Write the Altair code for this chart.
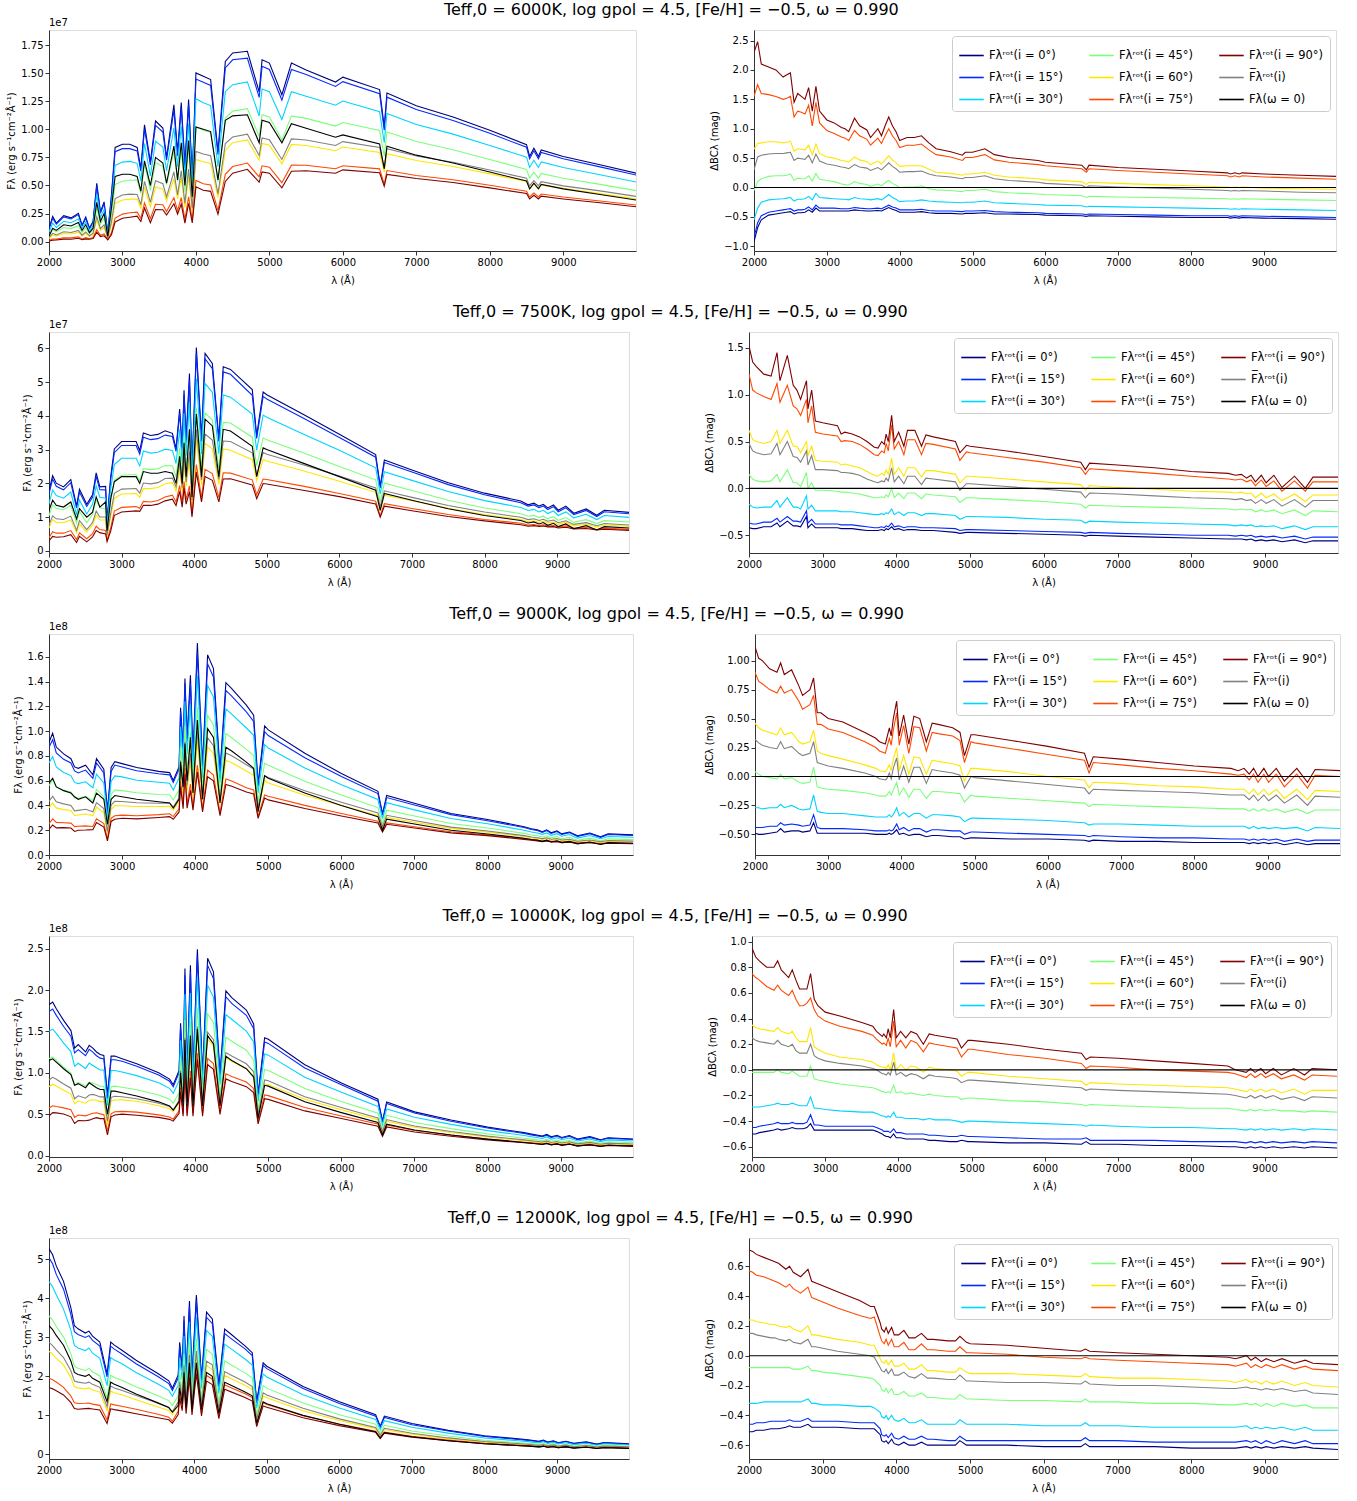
import altair as alt
import pandas as pd

# ---------------- Teff,0 = 6000 K ----------------
WL_6000 = [2000, 2050, 2100, 2200, 2300, 2400, 2450, 2500, 2550, 2600, 2650, 2700, 2750, 2800, 2850, 2900, 3000, 3100, 3200, 3250, 3300, 3380, 3450, 3550, 3600, 3700, 3750, 3800, 3850, 3900, 3950, 4000, 4100, 4200, 4300, 4400, 4500, 4700, 4861, 4900, 5000, 5170, 5300, 5500, 5900, 6000, 6500, 6563, 6600, 7000, 7500, 8000, 8500, 8542, 8600, 8662, 8700, 9000, 9500, 10000]
F0_6000 = [0.05, 0.12, 0.10, 0.15, 0.14, 0.17, 0.10, 0.15, 0.08, 0.12, 0.35, 0.18, 0.25, 0.05, 0.30, 0.58, 0.60, 0.60, 0.58, 0.45, 0.72, 0.50, 0.75, 0.70, 0.52, 0.85, 0.55, 0.88, 0.50, 0.90, 0.40, 1.02, 1.00, 0.98, 0.55, 1.08, 1.12, 1.13, 0.88, 1.08, 1.06, 0.88, 1.05, 1.01, 0.93, 0.95, 0.87, 0.65, 0.85, 0.77, 0.70, 0.62, 0.54, 0.47, 0.52, 0.47, 0.51, 0.47, 0.42, 0.37]
D90_6000 = [2.30, 2.48, 2.10, 2.05, 2.00, 1.88, 1.92, 1.95, 1.45, 1.60, 1.55, 1.50, 1.70, 1.30, 1.72, 1.30, 1.15, 1.10, 1.02, 1.00, 0.95, 1.18, 1.05, 0.98, 0.85, 1.00, 0.88, 1.05, 1.20, 1.05, 0.95, 0.80, 0.85, 0.85, 0.88, 0.76, 0.66, 0.61, 0.55, 0.60, 0.60, 0.66, 0.56, 0.51, 0.46, 0.43, 0.38, 0.30, 0.38, 0.34, 0.31, 0.28, 0.25, 0.23, 0.25, 0.23, 0.25, 0.23, 0.21, 0.19]
D75_6000 = [1.55, 1.75, 1.60, 1.58, 1.55, 1.50, 1.52, 1.55, 1.20, 1.30, 1.28, 1.25, 1.40, 1.05, 1.45, 1.10, 0.97, 0.92, 0.86, 0.84, 0.80, 0.97, 0.88, 0.82, 0.72, 0.84, 0.75, 0.88, 1.00, 0.88, 0.80, 0.68, 0.72, 0.72, 0.74, 0.64, 0.56, 0.52, 0.46, 0.51, 0.51, 0.56, 0.47, 0.43, 0.39, 0.37, 0.32, 0.26, 0.32, 0.29, 0.26, 0.23, 0.20, 0.18, 0.20, 0.18, 0.20, 0.18, 0.16, 0.14]
D60_6000 = [0.65, 0.75, 0.76, 0.78, 0.78, 0.76, 0.77, 0.79, 0.62, 0.66, 0.65, 0.64, 0.72, 0.56, 0.74, 0.58, 0.52, 0.50, 0.46, 0.45, 0.43, 0.52, 0.47, 0.44, 0.39, 0.45, 0.40, 0.47, 0.54, 0.47, 0.42, 0.36, 0.37, 0.37, 0.37, 0.31, 0.26, 0.24, 0.21, 0.23, 0.23, 0.26, 0.21, 0.18, 0.15, 0.13, 0.10, 0.05, 0.09, 0.07, 0.05, 0.03, 0.01, 0.00, 0.01, 0.00, 0.01, -0.01, -0.02, -0.03]
DMN_6000 = [0.30, 0.52, 0.55, 0.57, 0.58, 0.58, 0.59, 0.60, 0.46, 0.50, 0.49, 0.48, 0.55, 0.42, 0.57, 0.45, 0.40, 0.38, 0.35, 0.34, 0.32, 0.39, 0.35, 0.33, 0.29, 0.34, 0.30, 0.36, 0.42, 0.36, 0.32, 0.26, 0.27, 0.27, 0.28, 0.23, 0.20, 0.18, 0.15, 0.17, 0.17, 0.20, 0.15, 0.12, 0.09, 0.07, 0.04, 0.00, 0.03, 0.01, -0.01, -0.03, -0.05, -0.06, -0.05, -0.06, -0.05, -0.06, -0.08, -0.09]
D45_6000 = [-0.05, 0.10, 0.15, 0.19, 0.20, 0.20, 0.21, 0.23, 0.12, 0.16, 0.15, 0.15, 0.20, 0.11, 0.24, 0.14, 0.12, 0.10, 0.06, 0.05, 0.04, 0.10, 0.07, 0.05, 0.02, 0.06, 0.03, 0.08, 0.12, 0.07, 0.04, 0.00, 0.01, 0.01, 0.03, -0.02, -0.04, -0.05, -0.07, -0.05, -0.05, -0.03, -0.07, -0.09, -0.11, -0.12, -0.14, -0.17, -0.15, -0.16, -0.17, -0.18, -0.19, -0.20, -0.19, -0.20, -0.19, -0.20, -0.21, -0.22]
D30_6000 = [-0.55, -0.35, -0.25, -0.21, -0.20, -0.19, -0.18, -0.17, -0.23, -0.20, -0.20, -0.19, -0.15, -0.21, -0.10, -0.17, -0.18, -0.19, -0.20, -0.20, -0.21, -0.17, -0.19, -0.20, -0.21, -0.19, -0.21, -0.17, -0.12, -0.17, -0.20, -0.24, -0.23, -0.23, -0.21, -0.23, -0.24, -0.25, -0.26, -0.25, -0.25, -0.23, -0.26, -0.27, -0.29, -0.30, -0.31, -0.33, -0.32, -0.33, -0.34, -0.35, -0.36, -0.37, -0.36, -0.37, -0.36, -0.37, -0.38, -0.39]
D15_6000 = [-0.85, -0.60, -0.48, -0.42, -0.40, -0.38, -0.37, -0.36, -0.40, -0.38, -0.38, -0.37, -0.33, -0.38, -0.30, -0.35, -0.35, -0.35, -0.36, -0.36, -0.36, -0.34, -0.35, -0.36, -0.36, -0.35, -0.36, -0.33, -0.30, -0.33, -0.35, -0.38, -0.38, -0.38, -0.37, -0.39, -0.40, -0.40, -0.41, -0.40, -0.40, -0.39, -0.41, -0.42, -0.43, -0.44, -0.45, -0.46, -0.45, -0.46, -0.47, -0.48, -0.48, -0.49, -0.48, -0.49, -0.48, -0.49, -0.50, -0.51]
D00_6000 = [-0.92, -0.68, -0.55, -0.47, -0.45, -0.43, -0.42, -0.41, -0.45, -0.43, -0.43, -0.42, -0.38, -0.42, -0.35, -0.40, -0.40, -0.40, -0.40, -0.40, -0.40, -0.38, -0.39, -0.40, -0.40, -0.39, -0.40, -0.37, -0.34, -0.37, -0.39, -0.42, -0.42, -0.42, -0.41, -0.43, -0.44, -0.44, -0.45, -0.44, -0.44, -0.43, -0.45, -0.45, -0.46, -0.47, -0.48, -0.49, -0.48, -0.49, -0.50, -0.51, -0.51, -0.52, -0.51, -0.52, -0.51, -0.52, -0.53, -0.54]

# ---------------- Teff,0 = 7500 K ----------------
WL_7500 = [2000, 2050, 2100, 2200, 2300, 2380, 2420, 2520, 2600, 2650, 2700, 2780, 2800, 2850, 2900, 3000, 3200, 3250, 3300, 3400, 3500, 3600, 3700, 3750, 3800, 3835, 3860, 3889, 3935, 3970, 4030, 4101, 4150, 4250, 4340, 4400, 4500, 4800, 4861, 4950, 5000, 5500, 6000, 6500, 6563, 6620, 7000, 7500, 8000, 8500, 8600, 8680, 8750, 8810, 8870, 8950, 9015, 9120, 9230, 9400, 9546, 9650, 10000]
F0_7500 = [1.2, 1.5, 1.35, 1.3, 1.45, 0.95, 1.25, 1.0, 1.15, 1.6, 1.3, 1.45, 0.6, 1.55, 2.05, 2.2, 2.2, 2.0, 2.35, 2.3, 2.3, 2.35, 2.3, 2.0, 2.8, 2.0, 3.2, 2.2, 3.6, 1.6, 4.05, 2.2, 3.9, 3.7, 2.2, 3.6, 3.55, 3.1, 2.2, 3.05, 3.0, 2.6, 2.2, 1.8, 1.2, 1.7, 1.5, 1.25, 1.05, 0.9, 0.83, 0.86, 0.8, 0.84, 0.76, 0.82, 0.72, 0.8, 0.66, 0.75, 0.62, 0.72, 0.68]
D90_7500 = [1.52, 1.35, 1.30, 1.22, 1.20, 1.45, 1.15, 1.42, 1.10, 1.05, 0.95, 1.15, 0.85, 1.05, 0.72, 0.70, 0.67, 0.58, 0.60, 0.58, 0.55, 0.50, 0.44, 0.43, 0.50, 0.47, 0.58, 0.50, 0.78, 0.50, 0.60, 0.45, 0.62, 0.62, 0.45, 0.57, 0.55, 0.50, 0.38, 0.46, 0.45, 0.40, 0.34, 0.28, 0.20, 0.27, 0.25, 0.22, 0.18, 0.16, 0.14, 0.15, 0.11, 0.14, 0.07, 0.14, 0.06, 0.14, 0.01, 0.13, 0.00, 0.12, 0.12]
D75_7500 = [1.22, 1.05, 1.02, 0.98, 0.95, 1.12, 0.92, 1.10, 0.88, 0.85, 0.78, 0.95, 0.70, 0.88, 0.60, 0.58, 0.56, 0.50, 0.51, 0.50, 0.47, 0.42, 0.36, 0.35, 0.40, 0.38, 0.48, 0.40, 0.68, 0.42, 0.50, 0.36, 0.52, 0.52, 0.36, 0.48, 0.47, 0.42, 0.30, 0.39, 0.38, 0.33, 0.28, 0.22, 0.15, 0.21, 0.19, 0.16, 0.13, 0.10, 0.09, 0.10, 0.07, 0.09, 0.03, 0.09, 0.02, 0.08, -0.03, 0.08, -0.03, 0.07, 0.07]
D60_7500 = [0.62, 0.52, 0.50, 0.48, 0.50, 0.62, 0.48, 0.62, 0.45, 0.45, 0.38, 0.50, 0.35, 0.45, 0.30, 0.29, 0.28, 0.25, 0.26, 0.24, 0.22, 0.18, 0.14, 0.13, 0.16, 0.14, 0.20, 0.15, 0.32, 0.15, 0.22, 0.13, 0.22, 0.22, 0.12, 0.19, 0.19, 0.15, 0.06, 0.13, 0.13, 0.10, 0.07, 0.04, -0.02, 0.03, 0.01, -0.01, -0.03, -0.04, -0.05, -0.04, -0.06, -0.05, -0.10, -0.05, -0.10, -0.06, -0.13, -0.06, -0.14, -0.07, -0.07]
DMN_7500 = [0.48, 0.40, 0.38, 0.36, 0.37, 0.48, 0.36, 0.50, 0.34, 0.33, 0.28, 0.40, 0.25, 0.35, 0.20, 0.20, 0.19, 0.17, 0.17, 0.16, 0.14, 0.10, 0.07, 0.06, 0.08, 0.07, 0.11, 0.08, 0.22, 0.07, 0.13, 0.05, 0.13, 0.13, 0.04, 0.11, 0.10, 0.07, -0.02, 0.05, 0.05, 0.02, -0.01, -0.04, -0.10, -0.05, -0.06, -0.08, -0.10, -0.11, -0.12, -0.11, -0.13, -0.12, -0.16, -0.12, -0.16, -0.12, -0.19, -0.12, -0.20, -0.13, -0.13]
D45_7500 = [0.15, 0.10, 0.08, 0.07, 0.08, 0.15, 0.07, 0.20, 0.06, 0.06, 0.02, 0.17, 0.00, 0.06, -0.02, -0.02, -0.03, -0.04, -0.04, -0.05, -0.06, -0.08, -0.10, -0.10, -0.09, -0.10, -0.07, -0.09, 0.00, -0.10, -0.05, -0.11, -0.05, -0.05, -0.11, -0.06, -0.07, -0.09, -0.15, -0.10, -0.10, -0.12, -0.14, -0.17, -0.21, -0.18, -0.19, -0.20, -0.21, -0.22, -0.23, -0.22, -0.23, -0.22, -0.25, -0.23, -0.25, -0.23, -0.27, -0.23, -0.29, -0.24, -0.25]
D30_7500 = [-0.17, -0.20, -0.21, -0.20, -0.20, -0.13, -0.20, -0.10, -0.20, -0.20, -0.22, -0.08, -0.22, -0.18, -0.24, -0.24, -0.24, -0.25, -0.25, -0.25, -0.26, -0.27, -0.28, -0.28, -0.27, -0.28, -0.26, -0.27, -0.22, -0.28, -0.25, -0.29, -0.26, -0.26, -0.29, -0.27, -0.27, -0.29, -0.33, -0.30, -0.30, -0.31, -0.33, -0.34, -0.37, -0.35, -0.36, -0.37, -0.38, -0.39, -0.40, -0.39, -0.40, -0.39, -0.41, -0.40, -0.41, -0.40, -0.43, -0.40, -0.44, -0.41, -0.41]
D15_7500 = [-0.37, -0.38, -0.38, -0.36, -0.36, -0.32, -0.36, -0.30, -0.35, -0.35, -0.36, -0.24, -0.37, -0.33, -0.38, -0.38, -0.38, -0.39, -0.39, -0.39, -0.40, -0.41, -0.42, -0.42, -0.41, -0.42, -0.40, -0.41, -0.37, -0.41, -0.40, -0.42, -0.41, -0.41, -0.42, -0.42, -0.42, -0.43, -0.45, -0.44, -0.44, -0.45, -0.46, -0.47, -0.48, -0.47, -0.48, -0.49, -0.50, -0.50, -0.51, -0.50, -0.51, -0.50, -0.52, -0.51, -0.52, -0.51, -0.53, -0.51, -0.54, -0.52, -0.52]
D00_7500 = [-0.42, -0.43, -0.43, -0.41, -0.41, -0.37, -0.41, -0.35, -0.40, -0.40, -0.41, -0.30, -0.42, -0.38, -0.42, -0.42, -0.42, -0.43, -0.43, -0.43, -0.44, -0.45, -0.45, -0.45, -0.44, -0.45, -0.43, -0.44, -0.41, -0.44, -0.43, -0.45, -0.44, -0.44, -0.45, -0.45, -0.45, -0.47, -0.48, -0.47, -0.47, -0.48, -0.49, -0.50, -0.51, -0.50, -0.51, -0.52, -0.53, -0.54, -0.54, -0.54, -0.55, -0.54, -0.56, -0.55, -0.56, -0.55, -0.57, -0.55, -0.58, -0.56, -0.56]

# ---------------- Teff,0 = 9000 K ----------------
WL_9000 = [2000, 2050, 2100, 2200, 2300, 2350, 2400, 2500, 2600, 2650, 2750, 2800, 2850, 2900, 3000, 3200, 3500, 3650, 3700, 3780, 3800, 3835, 3860, 3889, 3935, 3970, 4030, 4101, 4170, 4250, 4340, 4420, 4500, 4700, 4800, 4861, 4950, 5000, 5500, 6000, 6500, 6563, 6620, 7000, 7500, 8000, 8500, 8600, 8680, 8750, 8810, 8870, 8950, 9015, 9120, 9230, 9400, 9546, 9650, 10000]
F0_9000 = [0.58, 0.62, 0.55, 0.52, 0.50, 0.47, 0.45, 0.47, 0.42, 0.50, 0.45, 0.25, 0.45, 0.48, 0.47, 0.45, 0.43, 0.42, 0.38, 0.45, 0.75, 0.55, 0.90, 0.60, 0.95, 0.50, 1.09, 0.45, 1.02, 0.95, 0.42, 0.87, 0.84, 0.75, 0.70, 0.35, 0.64, 0.62, 0.50, 0.40, 0.31, 0.20, 0.29, 0.25, 0.20, 0.17, 0.135, 0.125, 0.12, 0.11, 0.12, 0.105, 0.115, 0.10, 0.11, 0.09, 0.105, 0.085, 0.10, 0.095]
D90_9000 = [1.12, 1.02, 1.00, 0.93, 0.90, 0.98, 0.88, 0.92, 0.78, 0.70, 0.75, 0.85, 0.55, 0.55, 0.50, 0.47, 0.38, 0.33, 0.30, 0.28, 0.33, 0.42, 0.35, 0.50, 0.65, 0.35, 0.53, 0.28, 0.52, 0.50, 0.30, 0.46, 0.45, 0.42, 0.38, 0.18, 0.36, 0.36, 0.31, 0.26, 0.20, 0.08, 0.17, 0.15, 0.12, 0.09, 0.07, 0.05, 0.07, 0.02, 0.07, 0.00, 0.07, 0.00, 0.07, -0.04, 0.07, -0.05, 0.06, 0.05]
D75_9000 = [0.90, 0.82, 0.80, 0.75, 0.72, 0.78, 0.72, 0.75, 0.65, 0.58, 0.62, 0.70, 0.45, 0.45, 0.41, 0.38, 0.30, 0.25, 0.22, 0.20, 0.25, 0.33, 0.27, 0.40, 0.55, 0.27, 0.44, 0.20, 0.43, 0.42, 0.22, 0.38, 0.37, 0.35, 0.31, 0.12, 0.30, 0.29, 0.24, 0.19, 0.14, 0.03, 0.12, 0.10, 0.07, 0.05, 0.02, 0.01, 0.02, -0.03, 0.02, -0.05, 0.02, -0.05, 0.02, -0.09, 0.02, -0.10, 0.01, 0.00]
D60_9000 = [0.46, 0.42, 0.40, 0.38, 0.36, 0.42, 0.36, 0.38, 0.30, 0.28, 0.30, 0.40, 0.22, 0.20, 0.18, 0.15, 0.10, 0.07, 0.05, 0.04, 0.06, 0.10, 0.05, 0.15, 0.25, 0.05, 0.18, 0.02, 0.17, 0.16, 0.02, 0.14, 0.13, 0.11, 0.09, -0.04, 0.07, 0.07, 0.04, 0.00, -0.03, -0.10, -0.05, -0.06, -0.08, -0.09, -0.11, -0.11, -0.11, -0.15, -0.11, -0.16, -0.11, -0.16, -0.11, -0.19, -0.11, -0.20, -0.12, -0.13]
DMN_9000 = [0.32, 0.29, 0.27, 0.25, 0.24, 0.30, 0.24, 0.26, 0.20, 0.18, 0.20, 0.30, 0.12, 0.11, 0.09, 0.07, 0.03, 0.00, -0.02, -0.03, -0.02, 0.03, -0.02, 0.07, 0.16, -0.03, 0.09, -0.05, 0.08, 0.08, -0.06, 0.06, 0.05, 0.03, 0.01, -0.10, 0.00, -0.01, -0.04, -0.07, -0.10, -0.15, -0.11, -0.12, -0.13, -0.14, -0.16, -0.16, -0.16, -0.20, -0.16, -0.21, -0.16, -0.21, -0.16, -0.23, -0.16, -0.25, -0.17, -0.18]
D45_9000 = [0.04, 0.02, 0.00, -0.01, -0.02, 0.02, -0.02, -0.01, -0.05, -0.06, -0.05, 0.08, -0.09, -0.10, -0.11, -0.12, -0.14, -0.16, -0.17, -0.17, -0.16, -0.13, -0.16, -0.12, -0.05, -0.16, -0.10, -0.18, -0.11, -0.11, -0.19, -0.13, -0.13, -0.14, -0.15, -0.22, -0.16, -0.17, -0.19, -0.21, -0.23, -0.26, -0.24, -0.25, -0.26, -0.27, -0.28, -0.28, -0.28, -0.30, -0.28, -0.30, -0.28, -0.30, -0.28, -0.31, -0.28, -0.32, -0.29, -0.29]
D30_9000 = [-0.27, -0.27, -0.28, -0.27, -0.27, -0.24, -0.27, -0.25, -0.28, -0.29, -0.28, -0.16, -0.30, -0.31, -0.32, -0.32, -0.34, -0.35, -0.35, -0.35, -0.35, -0.33, -0.35, -0.33, -0.27, -0.34, -0.31, -0.35, -0.32, -0.32, -0.36, -0.33, -0.33, -0.34, -0.35, -0.39, -0.36, -0.36, -0.37, -0.38, -0.40, -0.42, -0.41, -0.41, -0.42, -0.43, -0.43, -0.43, -0.43, -0.45, -0.43, -0.45, -0.44, -0.45, -0.44, -0.45, -0.44, -0.47, -0.44, -0.45]
D15_9000 = [-0.44, -0.44, -0.44, -0.43, -0.43, -0.40, -0.42, -0.41, -0.42, -0.43, -0.42, -0.33, -0.44, -0.45, -0.45, -0.45, -0.46, -0.47, -0.47, -0.47, -0.47, -0.46, -0.47, -0.46, -0.41, -0.46, -0.44, -0.47, -0.45, -0.45, -0.48, -0.46, -0.46, -0.47, -0.47, -0.50, -0.48, -0.48, -0.49, -0.50, -0.51, -0.52, -0.51, -0.52, -0.53, -0.53, -0.54, -0.54, -0.54, -0.55, -0.54, -0.55, -0.54, -0.55, -0.54, -0.56, -0.54, -0.56, -0.55, -0.55]
D00_9000 = [-0.49, -0.50, -0.50, -0.49, -0.48, -0.45, -0.48, -0.47, -0.47, -0.48, -0.47, -0.40, -0.49, -0.49, -0.49, -0.49, -0.49, -0.50, -0.50, -0.50, -0.50, -0.49, -0.50, -0.49, -0.46, -0.50, -0.49, -0.51, -0.50, -0.50, -0.52, -0.51, -0.51, -0.52, -0.52, -0.54, -0.53, -0.53, -0.54, -0.54, -0.55, -0.56, -0.55, -0.56, -0.56, -0.57, -0.57, -0.57, -0.57, -0.58, -0.57, -0.58, -0.57, -0.58, -0.57, -0.59, -0.57, -0.59, -0.58, -0.58]

# ---------------- Teff,0 = 10000 K ----------------
WL_10000 = [2000, 2050, 2100, 2200, 2300, 2350, 2400, 2500, 2550, 2600, 2650, 2700, 2750, 2800, 2850, 2900, 3000, 3200, 3500, 3650, 3700, 3780, 3800, 3835, 3860, 3889, 3935, 3970, 4030, 4101, 4170, 4250, 4340, 4420, 4500, 4700, 4800, 4861, 4950, 5000, 5500, 6000, 6500, 6563, 6620, 7000, 7500, 8000, 8500, 8600, 8750, 8810, 8870, 8950, 9015, 9120, 9230, 9400, 9546, 9650, 10000]
F0_10000 = [1.15, 1.17, 1.13, 1.05, 0.98, 0.85, 0.87, 0.82, 0.88, 0.85, 0.82, 0.80, 0.80, 0.50, 0.78, 0.78, 0.76, 0.72, 0.65, 0.60, 0.55, 0.65, 1.00, 0.60, 1.40, 0.60, 1.45, 0.60, 1.53, 0.60, 1.45, 1.35, 0.60, 1.20, 1.15, 1.05, 0.95, 0.45, 0.85, 0.84, 0.65, 0.52, 0.40, 0.25, 0.38, 0.31, 0.25, 0.20, 0.16, 0.15, 0.135, 0.148, 0.13, 0.142, 0.125, 0.14, 0.115, 0.132, 0.11, 0.125, 0.115]
D90_10000 = [0.95, 0.88, 0.85, 0.80, 0.80, 0.85, 0.78, 0.72, 0.78, 0.70, 0.63, 0.63, 0.63, 0.75, 0.55, 0.50, 0.45, 0.42, 0.37, 0.34, 0.30, 0.26, 0.28, 0.25, 0.32, 0.25, 0.47, 0.25, 0.30, 0.25, 0.30, 0.28, 0.20, 0.28, 0.27, 0.25, 0.24, 0.17, 0.23, 0.23, 0.20, 0.16, 0.13, 0.08, 0.10, 0.09, 0.07, 0.05, 0.03, 0.00, -0.02, 0.01, -0.02, 0.01, -0.03, 0.01, -0.04, 0.01, -0.04, 0.01, 0.00]
D75_10000 = [0.75, 0.72, 0.70, 0.65, 0.62, 0.66, 0.62, 0.58, 0.62, 0.55, 0.50, 0.50, 0.52, 0.56, 0.47, 0.42, 0.38, 0.34, 0.30, 0.27, 0.24, 0.20, 0.21, 0.19, 0.25, 0.18, 0.38, 0.18, 0.23, 0.17, 0.23, 0.21, 0.14, 0.21, 0.20, 0.18, 0.17, 0.10, 0.16, 0.16, 0.12, 0.09, 0.05, 0.01, 0.03, 0.02, 0.00, -0.01, -0.02, -0.03, -0.06, -0.03, -0.06, -0.03, -0.06, -0.03, -0.07, -0.04, -0.08, -0.04, -0.05]
D60_10000 = [0.35, 0.33, 0.32, 0.31, 0.30, 0.33, 0.30, 0.28, 0.30, 0.25, 0.22, 0.22, 0.22, 0.33, 0.18, 0.16, 0.13, 0.10, 0.08, 0.06, 0.04, 0.02, 0.02, 0.01, 0.04, 0.00, 0.13, 0.00, 0.04, 0.00, 0.03, 0.02, -0.02, 0.02, 0.01, 0.00, -0.01, -0.05, -0.02, -0.02, -0.05, -0.07, -0.09, -0.12, -0.10, -0.11, -0.12, -0.13, -0.14, -0.15, -0.17, -0.15, -0.17, -0.15, -0.17, -0.15, -0.18, -0.15, -0.19, -0.16, -0.16]
DMN_10000 = [0.25, 0.23, 0.22, 0.21, 0.20, 0.23, 0.20, 0.18, 0.20, 0.15, 0.13, 0.13, 0.13, 0.20, 0.11, 0.09, 0.07, 0.05, 0.03, 0.01, 0.00, -0.03, -0.03, -0.04, -0.02, -0.04, 0.06, -0.04, -0.02, -0.05, -0.03, -0.04, -0.07, -0.04, -0.05, -0.06, -0.07, -0.10, -0.08, -0.08, -0.10, -0.12, -0.14, -0.16, -0.15, -0.16, -0.17, -0.18, -0.19, -0.20, -0.22, -0.20, -0.22, -0.20, -0.22, -0.20, -0.23, -0.21, -0.24, -0.21, -0.22]
D45_10000 = [-0.02, -0.02, -0.02, -0.02, -0.02, 0.00, -0.02, -0.03, -0.01, -0.03, -0.05, -0.05, -0.05, 0.03, -0.07, -0.08, -0.09, -0.11, -0.13, -0.14, -0.15, -0.17, -0.17, -0.18, -0.17, -0.18, -0.12, -0.18, -0.17, -0.19, -0.18, -0.19, -0.20, -0.19, -0.20, -0.21, -0.21, -0.23, -0.22, -0.22, -0.24, -0.25, -0.27, -0.28, -0.27, -0.28, -0.29, -0.30, -0.30, -0.31, -0.32, -0.31, -0.32, -0.31, -0.32, -0.31, -0.32, -0.32, -0.33, -0.32, -0.33]
D30_10000 = [-0.29, -0.29, -0.29, -0.28, -0.27, -0.26, -0.27, -0.27, -0.26, -0.27, -0.28, -0.28, -0.28, -0.21, -0.30, -0.30, -0.31, -0.32, -0.33, -0.33, -0.34, -0.36, -0.36, -0.37, -0.36, -0.37, -0.33, -0.37, -0.37, -0.38, -0.38, -0.38, -0.39, -0.38, -0.39, -0.39, -0.40, -0.41, -0.40, -0.40, -0.41, -0.42, -0.43, -0.44, -0.43, -0.44, -0.45, -0.45, -0.46, -0.46, -0.47, -0.46, -0.47, -0.46, -0.47, -0.46, -0.47, -0.46, -0.47, -0.46, -0.47]
D15_10000 = [-0.45, -0.45, -0.44, -0.43, -0.42, -0.41, -0.42, -0.42, -0.41, -0.42, -0.42, -0.42, -0.41, -0.35, -0.43, -0.43, -0.44, -0.44, -0.44, -0.44, -0.45, -0.47, -0.48, -0.48, -0.48, -0.49, -0.46, -0.49, -0.49, -0.50, -0.50, -0.50, -0.50, -0.51, -0.51, -0.52, -0.52, -0.51, -0.52, -0.52, -0.53, -0.54, -0.54, -0.53, -0.55, -0.55, -0.55, -0.56, -0.56, -0.56, -0.57, -0.56, -0.57, -0.56, -0.57, -0.56, -0.57, -0.56, -0.57, -0.56, -0.57]
D00_10000 = [-0.50, -0.50, -0.49, -0.48, -0.47, -0.46, -0.47, -0.46, -0.45, -0.46, -0.46, -0.46, -0.45, -0.42, -0.47, -0.47, -0.47, -0.47, -0.47, -0.47, -0.48, -0.50, -0.51, -0.52, -0.52, -0.53, -0.50, -0.53, -0.53, -0.54, -0.54, -0.54, -0.54, -0.55, -0.55, -0.56, -0.56, -0.55, -0.56, -0.56, -0.57, -0.57, -0.58, -0.56, -0.58, -0.58, -0.59, -0.59, -0.60, -0.60, -0.61, -0.60, -0.61, -0.60, -0.61, -0.60, -0.61, -0.60, -0.61, -0.60, -0.61]

# ---------------- Teff,0 = 12000 K ----------------
WL_12000 = [2000, 2050, 2100, 2200, 2300, 2350, 2400, 2500, 2550, 2600, 2700, 2800, 2850, 2900, 3000, 3200, 3500, 3650, 3700, 3780, 3800, 3835, 3860, 3889, 3935, 3970, 4030, 4101, 4170, 4250, 4340, 4420, 4500, 4700, 4800, 4861, 4950, 5000, 5500, 6000, 6500, 6563, 6620, 7000, 7500, 8000, 8500, 8600, 8750, 8810, 8870, 8950, 9015, 9120, 9230, 9400, 9546, 9650, 10000]
F0_12000 = [3.30, 3.20, 3.05, 2.80, 2.40, 2.10, 2.05, 2.00, 2.05, 1.95, 1.85, 1.35, 1.85, 1.80, 1.72, 1.55, 1.32, 1.20, 1.08, 1.25, 1.70, 1.30, 2.10, 1.20, 2.35, 1.15, 2.35, 1.15, 2.10, 2.00, 1.05, 1.85, 1.78, 1.60, 1.50, 0.80, 1.35, 1.30, 1.00, 0.77, 0.58, 0.42, 0.56, 0.45, 0.35, 0.27, 0.22, 0.21, 0.19, 0.205, 0.18, 0.195, 0.17, 0.19, 0.16, 0.18, 0.15, 0.17, 0.15]
D90_12000 = [0.71, 0.70, 0.68, 0.66, 0.64, 0.63, 0.62, 0.58, 0.60, 0.56, 0.53, 0.58, 0.50, 0.49, 0.47, 0.43, 0.37, 0.33, 0.33, 0.22, 0.18, 0.16, 0.19, 0.15, 0.19, 0.14, 0.14, 0.17, 0.12, 0.12, 0.15, 0.11, 0.11, 0.10, 0.10, 0.13, 0.09, 0.08, 0.07, 0.05, 0.03, 0.045, 0.03, 0.02, 0.01, 0.00, -0.01, -0.02, 0.00, -0.03, -0.01, -0.04, -0.02, -0.04, -0.02, -0.05, -0.03, -0.05, -0.06]
D75_12000 = [0.57, 0.56, 0.54, 0.53, 0.51, 0.50, 0.49, 0.46, 0.48, 0.45, 0.42, 0.46, 0.39, 0.38, 0.36, 0.32, 0.27, 0.25, 0.26, 0.13, 0.10, 0.08, 0.11, 0.07, 0.11, 0.06, 0.06, 0.09, 0.04, 0.04, 0.08, 0.04, 0.04, 0.03, 0.03, 0.06, 0.02, 0.02, 0.01, -0.01, -0.02, -0.01, -0.02, -0.03, -0.04, -0.05, -0.06, -0.07, -0.05, -0.08, -0.06, -0.08, -0.06, -0.08, -0.06, -0.09, -0.07, -0.09, -0.10]
D60_12000 = [0.24, 0.24, 0.23, 0.22, 0.21, 0.21, 0.20, 0.19, 0.20, 0.18, 0.16, 0.20, 0.14, 0.14, 0.13, 0.11, 0.09, 0.07, 0.07, -0.02, -0.04, -0.05, -0.03, -0.06, -0.03, -0.07, -0.07, -0.05, -0.09, -0.09, -0.06, -0.10, -0.10, -0.11, -0.11, -0.08, -0.11, -0.12, -0.12, -0.13, -0.14, -0.12, -0.14, -0.15, -0.15, -0.16, -0.17, -0.18, -0.16, -0.18, -0.17, -0.19, -0.17, -0.19, -0.17, -0.20, -0.18, -0.20, -0.21]
DMN_12000 = [0.15, 0.15, 0.14, 0.13, 0.12, 0.12, 0.11, 0.10, 0.11, 0.09, 0.08, 0.11, 0.06, 0.06, 0.05, 0.03, 0.01, 0.00, -0.01, -0.08, -0.10, -0.11, -0.09, -0.12, -0.09, -0.13, -0.13, -0.11, -0.14, -0.15, -0.12, -0.15, -0.15, -0.16, -0.16, -0.13, -0.17, -0.17, -0.18, -0.18, -0.19, -0.17, -0.19, -0.20, -0.20, -0.21, -0.22, -0.22, -0.21, -0.22, -0.22, -0.23, -0.22, -0.23, -0.22, -0.24, -0.23, -0.25, -0.26]
D45_12000 = [-0.08, -0.08, -0.08, -0.08, -0.08, -0.08, -0.08, -0.08, -0.08, -0.09, -0.09, -0.07, -0.10, -0.10, -0.11, -0.12, -0.14, -0.15, -0.16, -0.20, -0.23, -0.24, -0.22, -0.25, -0.22, -0.26, -0.26, -0.24, -0.27, -0.27, -0.25, -0.28, -0.28, -0.29, -0.29, -0.26, -0.29, -0.29, -0.30, -0.30, -0.31, -0.29, -0.31, -0.31, -0.32, -0.32, -0.33, -0.33, -0.32, -0.33, -0.32, -0.34, -0.32, -0.34, -0.32, -0.34, -0.33, -0.35, -0.35]
D30_12000 = [-0.32, -0.32, -0.32, -0.31, -0.31, -0.31, -0.31, -0.31, -0.31, -0.31, -0.31, -0.29, -0.32, -0.32, -0.33, -0.33, -0.34, -0.34, -0.35, -0.38, -0.41, -0.42, -0.40, -0.43, -0.40, -0.43, -0.44, -0.42, -0.45, -0.45, -0.43, -0.46, -0.46, -0.46, -0.46, -0.43, -0.46, -0.46, -0.46, -0.47, -0.47, -0.45, -0.47, -0.47, -0.48, -0.48, -0.48, -0.48, -0.47, -0.49, -0.48, -0.49, -0.48, -0.49, -0.48, -0.50, -0.48, -0.50, -0.50]
D15_12000 = [-0.46, -0.46, -0.45, -0.45, -0.44, -0.44, -0.44, -0.44, -0.43, -0.44, -0.44, -0.42, -0.44, -0.44, -0.44, -0.44, -0.45, -0.45, -0.45, -0.49, -0.53, -0.54, -0.53, -0.55, -0.52, -0.55, -0.56, -0.54, -0.56, -0.56, -0.54, -0.56, -0.56, -0.57, -0.57, -0.54, -0.57, -0.57, -0.57, -0.57, -0.57, -0.55, -0.57, -0.57, -0.58, -0.58, -0.58, -0.58, -0.57, -0.58, -0.57, -0.59, -0.57, -0.59, -0.57, -0.59, -0.57, -0.59, -0.59]
D00_12000 = [-0.51, -0.51, -0.50, -0.50, -0.49, -0.49, -0.49, -0.48, -0.47, -0.48, -0.48, -0.46, -0.48, -0.48, -0.48, -0.48, -0.49, -0.49, -0.49, -0.53, -0.57, -0.58, -0.57, -0.59, -0.56, -0.59, -0.60, -0.58, -0.60, -0.60, -0.58, -0.60, -0.60, -0.60, -0.60, -0.57, -0.60, -0.60, -0.60, -0.61, -0.61, -0.59, -0.61, -0.61, -0.61, -0.62, -0.62, -0.62, -0.61, -0.62, -0.61, -0.62, -0.61, -0.62, -0.61, -0.62, -0.61, -0.62, -0.63]

# ---------------- labels / styling ----------------
TEFF = ["6000", "7500", "9000", "10000", "12000"]
OFFSETS = ["1e7", "1e7", "1e8", "1e8", "1e8"]
X_TICKS = [2000, 3000, 4000, 5000, 6000, 7000, 8000, 9000]
LABELS = ["Fλʳᵒᵗ(i = 0°)", "Fλʳᵒᵗ(i = 15°)", "Fλʳᵒᵗ(i = 30°)", "Fλʳᵒᵗ(i = 45°)",
          "Fλʳᵒᵗ(i = 60°)", "Fλʳᵒᵗ(i = 75°)", "Fλʳᵒᵗ(i = 90°)", "F̅λʳᵒᵗ(i)", "Fλ(ω = 0)"]
COLORS = ["#00007f", "#002aff", "#00d4ff", "#7bff7b", "#ffe600", "#ff4900", "#7f0000", "#808080", "#000000"]

LEFT_Y = [
    ([-0.083, 1.884], [0, 0.25, 0.5, 0.75, 1.0, 1.25, 1.5, 1.75], ".2f"),
    ([-0.06, 6.48], [0, 1, 2, 3, 4, 5, 6], "d"),
    ([0.0, 1.785], [0, 0.2, 0.4, 0.6, 0.8, 1.0, 1.2, 1.4, 1.6], ".1f"),
    ([-0.016, 2.653], [0, 0.5, 1.0, 1.5, 2.0, 2.5], ".1f"),
    ([-0.12, 5.55], [0, 1, 2, 3, 4, 5], "d"),
]
RIGHT_Y = [
    ([-1.08, 2.68], [-1.0, -0.5, 0.0, 0.5, 1.0, 1.5, 2.0, 2.5], ".1f"),
    ([-0.69, 1.67], [-0.5, 0.0, 0.5, 1.0, 1.5], ".1f"),
    ([-0.678, 1.23], [-0.5, -0.25, 0.0, 0.25, 0.5, 0.75, 1.0], ".2f"),
    ([-0.68, 1.044], [-0.6, -0.4, -0.2, 0.0, 0.2, 0.4, 0.6, 0.8, 1.0], ".1f"),
    ([-0.693, 0.79], [-0.6, -0.4, -0.2, 0.0, 0.2, 0.4, 0.6], ".1f"),
]
# (left width, right width, spacing) per row
SIZES = [(587, 582, 72), (580, 589, 74), (584, 585, 69), (584, 585, 73), (580, 589, 74)]

DATA = [
    (WL_6000, F0_6000, [D00_6000, D15_6000, D30_6000, D45_6000, D60_6000, D75_6000, D90_6000, DMN_6000]),
    (WL_7500, F0_7500, [D00_7500, D15_7500, D30_7500, D45_7500, D60_7500, D75_7500, D90_7500, DMN_7500]),
    (WL_9000, F0_9000, [D00_9000, D15_9000, D30_9000, D45_9000, D60_9000, D75_9000, D90_9000, DMN_9000]),
    (WL_10000, F0_10000, [D00_10000, D15_10000, D30_10000, D45_10000, D60_10000, D75_10000, D90_10000, DMN_10000]),
    (WL_12000, F0_12000, [D00_12000, D15_12000, D30_12000, D45_12000, D60_12000, D75_12000, D90_12000, DMN_12000]),
]

FONT = "DejaVu Sans"


def build(wl, f0, dbcs, tag):
    if len(f0) != len(wl):
        raise ValueError(f"{tag}: F0 length {len(f0)} != {len(wl)}")
    left, right = [], []
    for k, d in enumerate(dbcs):
        if len(d) != len(wl):
            raise ValueError(f"{tag}: series {k} length {len(d)} != {len(wl)}")
        for w, f, v in zip(wl, f0, d):
            left.append({"wl": w, "val": f * 10 ** (-0.4 * v), "series": LABELS[k]})
            right.append({"wl": w, "val": v, "series": LABELS[k]})
    for w, f in zip(wl, f0):
        left.append({"wl": w, "val": f, "series": LABELS[8]})
        right.append({"wl": w, "val": 0.0, "series": LABELS[8]})
    return pd.DataFrame(left), pd.DataFrame(right)


def axis(values, fmt, title, tpad):
    return alt.Axis(values=values, format=fmt, title=title, grid=False, labelFlush=False,
                    titleFontWeight="normal", labelFont=FONT, titleFont=FONT,
                    labelFontSize=10, titleFontSize=10, labelColor="black",
                    titleColor="black", tickColor="#333333", domainColor="#333333",
                    tickSize=4, labelPadding=2, titlePadding=tpad)


def panel(df, ydef, ytitle, width, offset=None, legend=False):
    ydom, yticks, yfmt = ydef
    if legend:
        leg = alt.Legend(orient="top-right", columns=3, title=None, symbolType="stroke",
                         symbolStrokeWidth=1.6, symbolSize=600, labelFontSize=11.5,
                         labelFont=FONT, labelLimit=200, fillColor="white",
                         strokeColor="#cccccc", padding=6, cornerRadius=3,
                         columnPadding=22, rowPadding=3, offset=6)
    else:
        leg = None
    line = alt.Chart(df).mark_line(strokeWidth=1.1, clip=True).encode(
        x=alt.X("wl:Q", scale=alt.Scale(domain=[2000, 9990], nice=False, zero=False),
                axis=axis(X_TICKS, "d", "λ (Å)", 8)),
        y=alt.Y("val:Q", scale=alt.Scale(domain=ydom, nice=False, zero=False),
                axis=axis(yticks, yfmt, ytitle, 4)),
        color=alt.Color("series:N", scale=alt.Scale(domain=LABELS, range=COLORS), legend=leg),
    )
    layers = [line]
    if offset:
        txt = alt.Chart(pd.DataFrame({"t": [offset]})).mark_text(
            align="left", baseline="bottom", fontSize=10, font=FONT, dy=-2
        ).encode(x=alt.value(0), y=alt.value(0), text="t:N")
        layers.append(txt)
    return alt.layer(*layers).properties(width=width, height=221)


rows = []
for r in range(5):
    wl, f0, dbcs = DATA[r]
    dl, dr = build(wl, f0, dbcs, TEFF[r])
    wl_w, wr_w, sp = SIZES[r]
    left = panel(dl, LEFT_Y[r], "Fλ (erg s⁻¹cm⁻²Å⁻¹)", wl_w, offset=OFFSETS[r])
    right = panel(dr, RIGHT_Y[r], "ΔBCλ (mag)", wr_w, legend=True)
    title = f"Teff,0 = {TEFF[r]}K, log gpol = 4.5, [Fe/H] = −0.5, ω = 0.990"
    hc = alt.hconcat(left, right, spacing=sp).resolve_scale(
        x="independent", y="independent", color="independent"
    ).resolve_legend(color="independent").properties(
        title=alt.TitleParams(title, fontSize=16, font=FONT, fontWeight="normal",
                              anchor="middle", offset=0, color="black")
    )
    rows.append(hc)

chart = alt.vconcat(*rows, spacing=17).resolve_scale(
    x="independent", y="independent", color="independent"
).resolve_legend(color="independent").properties(
    padding={"left": 6, "top": 1, "right": 4, "bottom": 2}
).configure_view(stroke="#333333", strokeWidth=1).configure(background="white")

chart.save("out.html", embed_options={"renderer": "svg", "actions": False})
